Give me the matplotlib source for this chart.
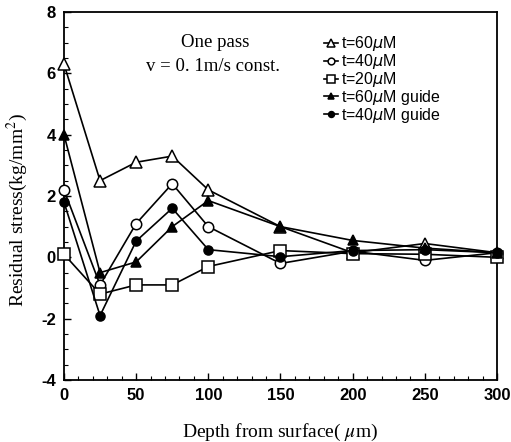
import matplotlib
matplotlib.use("Agg")
import matplotlib.pyplot as plt
from matplotlib.ticker import MultipleLocator

plt.rcParams['axes.unicode_minus'] = False

depth = [0, 25, 50, 75, 100, 150, 200, 250, 300]
t60 = [6.3, 2.5, 3.1, 3.3, 2.2, 1.0, 0.15, 0.45, 0.15]
t40 = [2.2, -0.9, 1.1, 2.4, 1.0, -0.2, 0.2, -0.1, 0.15]
t20 = [0.1, -1.2, -0.9, -0.9, -0.3, 0.22, 0.12, 0.1, 0.0]
t60g = [4.0, -0.5, -0.15, 1.0, 1.85, 1.0, 0.55, 0.3, 0.15]
t40g = [1.8, -1.9, 0.53, 1.6, 0.25, 0.02, 0.22, 0.25, 0.15]

labels = [r't=60$\mu$M', r't=40$\mu$M', r't=20$\mu$M',
          r't=60$\mu$M guide', r't=40$\mu$M guide']

fig = plt.figure(figsize=(5.11, 4.42), dpi=100)
ax = fig.add_axes([0.1252, 0.1403, 0.8474, 0.8326])

series = [t60, t40, t20, t60g, t40g]
markers = ['^', 'o', 's', '^', 'o']
fills = ['white', 'white', 'white', 'black', 'black']
sizes = [8, 7.5, 8, 7, 6.5]
for ys, m, fc, ms, lab in zip(series, markers, fills, sizes, labels):
    ax.plot(depth, ys, color='black', lw=1.2, marker=m, ms=ms,
            mfc=fc, mec='black', mew=1.1, label=lab, clip_on=False, zorder=3)

ax.set_xlim(0, 300)
ax.set_ylim(-4, 8)
ax.xaxis.set_major_locator(MultipleLocator(50))
ax.xaxis.set_minor_locator(MultipleLocator(10))
ax.yaxis.set_major_locator(MultipleLocator(2))
ax.yaxis.set_minor_locator(MultipleLocator(0.5))
ax.tick_params(which='both', direction='in', top=False, right=False)
ax.tick_params(which='major', length=5, width=1)
ax.tick_params(which='minor', length=3, width=0.8)
for lab in ax.get_xticklabels() + ax.get_yticklabels():
    lab.set_fontfamily('Liberation Sans')
    lab.set_fontweight('bold')
    lab.set_fontsize(12)
ax.tick_params(axis='x', pad=6)
ax.tick_params(axis='y', pad=6)
for s in ax.spines.values():
    s.set_linewidth(1.3)

ax.set_xlabel(r'Depth from surface( $\mu$m)', family='Liberation Serif',
              fontsize=14, math_fontfamily='stix', labelpad=13)
ylab = ax.set_ylabel(r'Residual stress(kg/mm$^2$)', family='Liberation Serif',
                     fontsize=14, math_fontfamily='stix')
ylab.set_verticalalignment('center')
ax.yaxis.set_label_coords(-0.108, 0.462)

ax.text(0.35, 0.916, 'One pass', transform=ax.transAxes, ha='center',
        va='center', family='Liberation Serif', fontsize=13.5)
ax.text(0.345, 0.851, 'v = 0. 1m/s const.', transform=ax.transAxes, ha='center',
        va='center', family='Liberation Serif', fontsize=13.5)

leg = ax.legend(loc='upper left', bbox_to_anchor=(0.60, 0.939), frameon=False,
                handlelength=0.9, handletextpad=0.15, labelspacing=-0.07,
                borderpad=0, borderaxespad=0, markerscale=0.65,
                prop={'family': 'Liberation Sans', 'size': 11.5})

fig.savefig('out.png', dpi=100)
